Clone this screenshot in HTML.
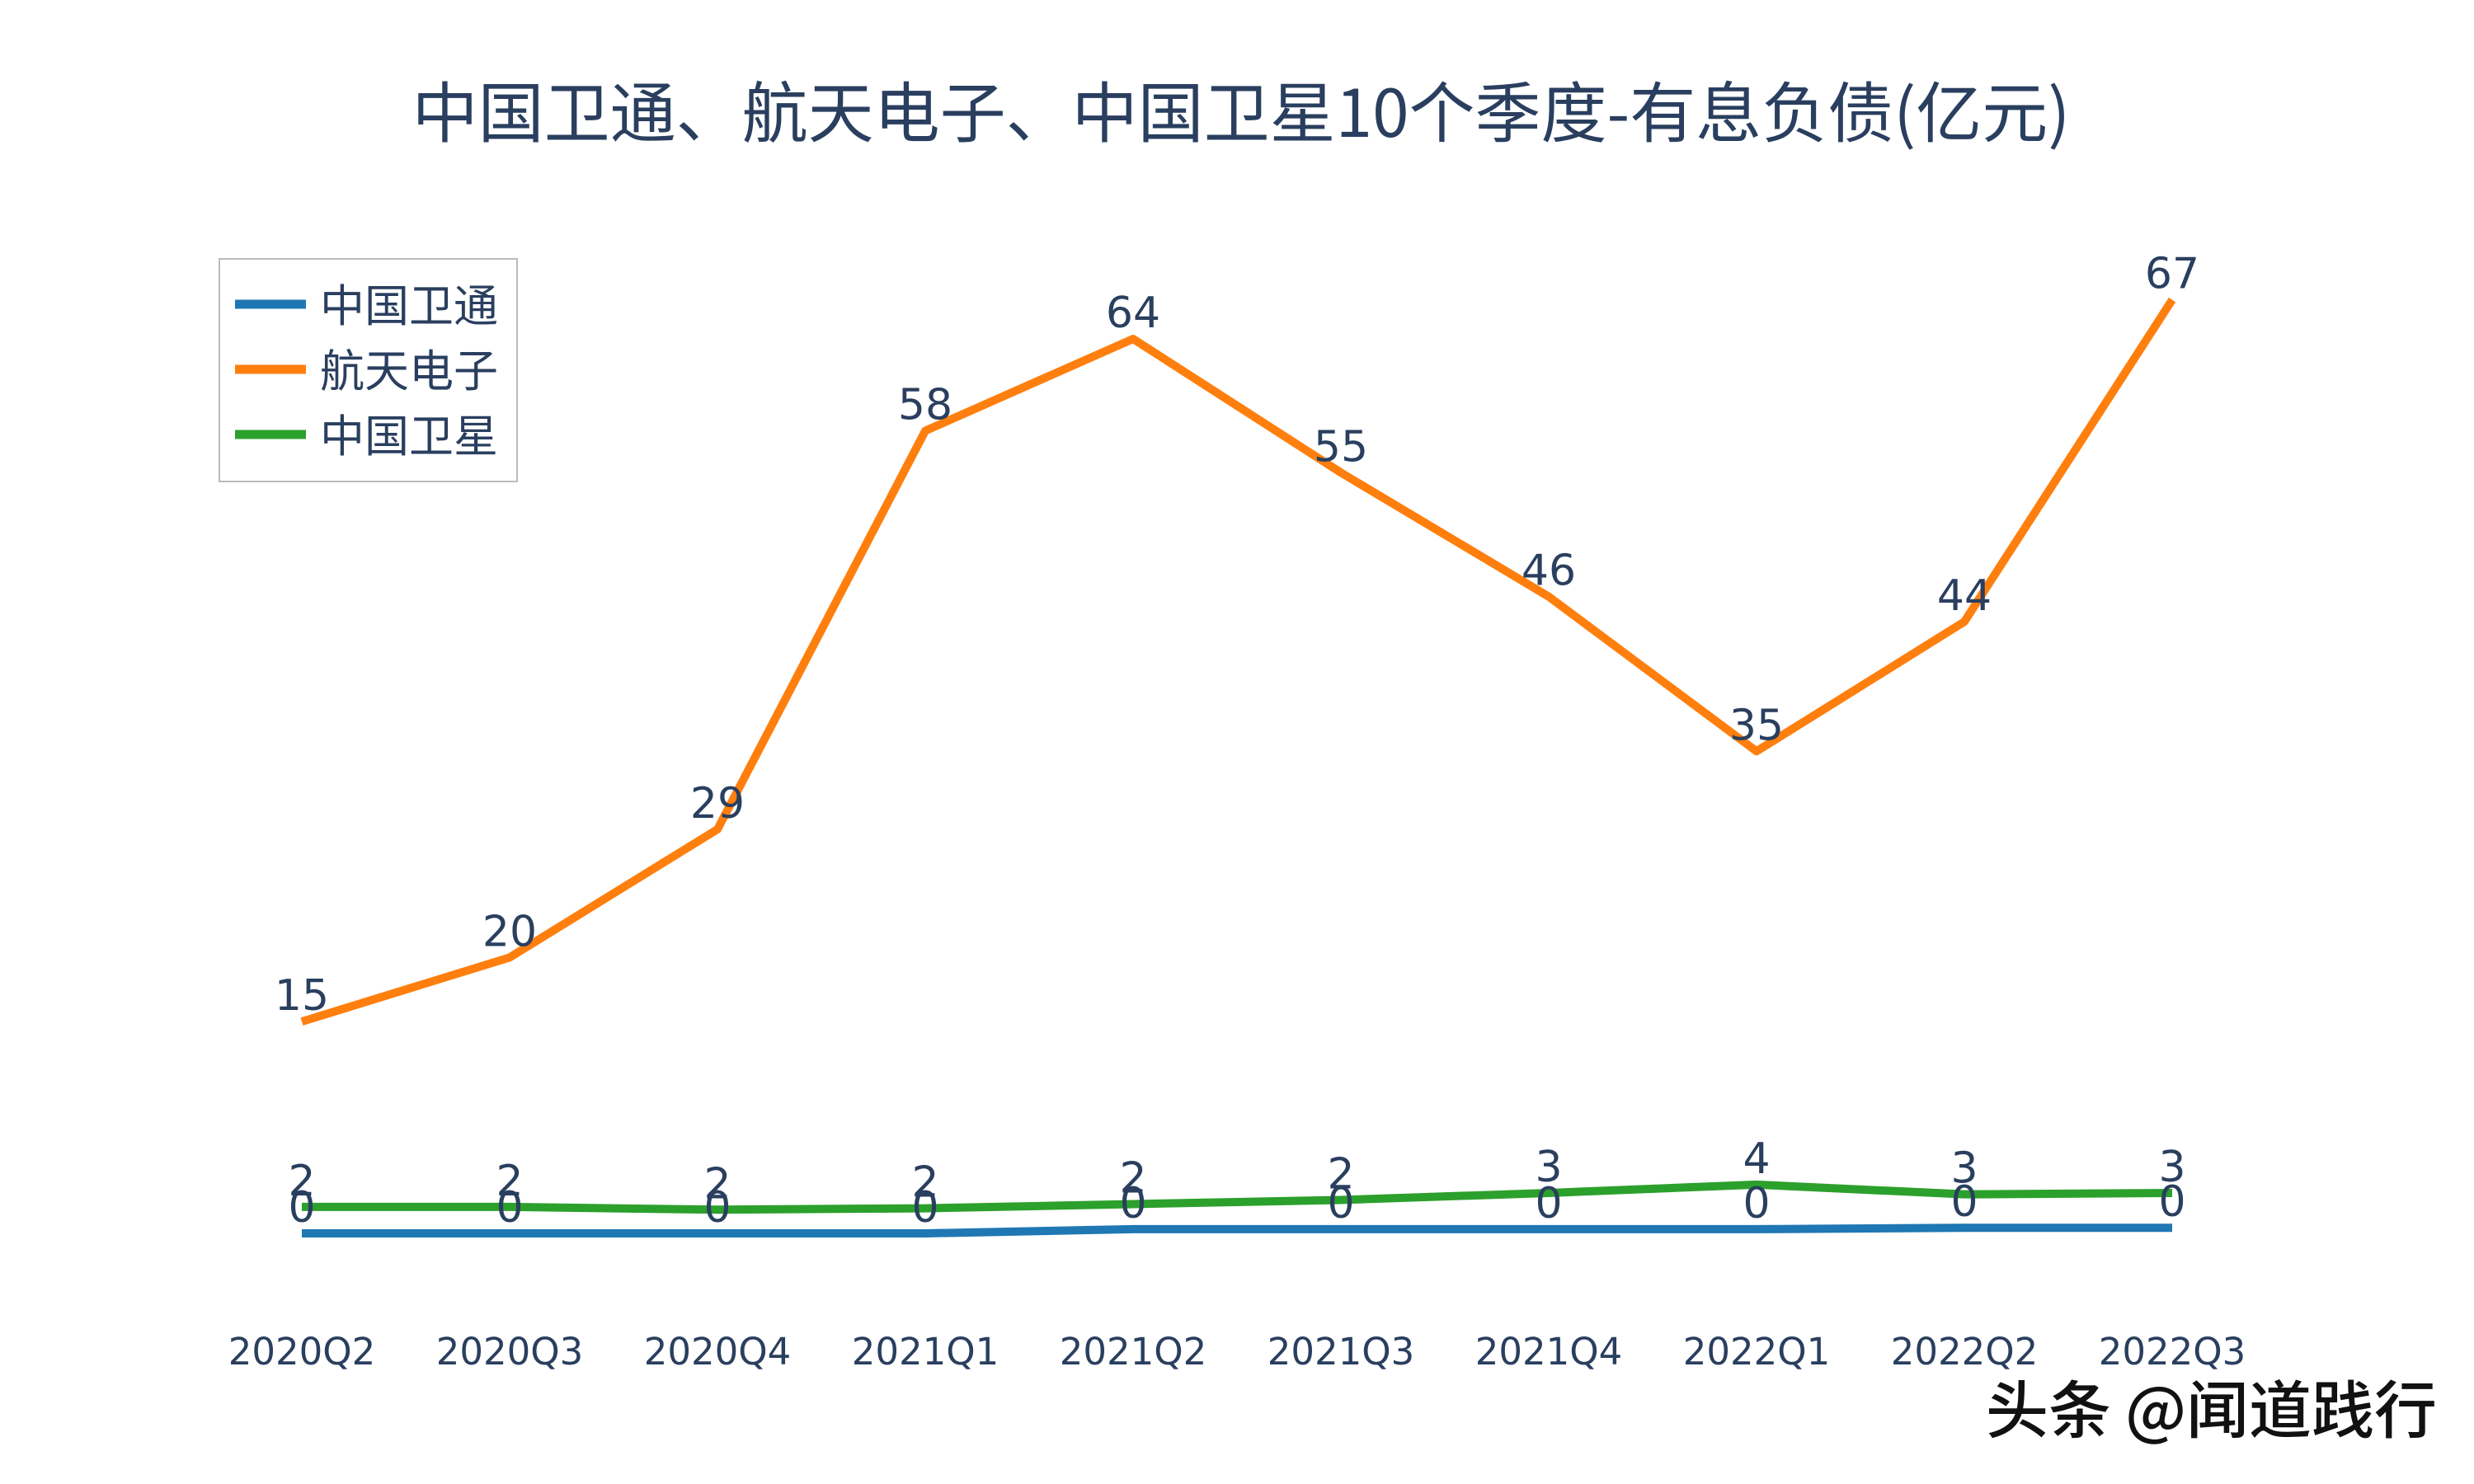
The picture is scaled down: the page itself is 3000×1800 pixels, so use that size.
<!DOCTYPE html>
<html><head><meta charset="utf-8"><style>
html,body{margin:0;padding:0;background:#fff;}
svg{display:block;}
text{font-family:"DejaVu Sans","Liberation Sans","Noto Sans CJK SC",sans-serif;fill:#2a3f5f;}
.cjk{font-family:"Noto Sans CJK SC","DejaVu Sans",sans-serif;}
</style></head><body>
<svg id="chart" width="3000" height="1800" viewBox="0 0 3000 1800" xmlns="http://www.w3.org/2000/svg">
<text class="cjk" x="1505" y="166" font-size="80" text-anchor="middle">中国卫通、航天电子、中国卫星10个季度-有息负债(亿元)</text>
<g id="xaxis"></g>
<g id="series"></g>
<g id="labels"></g>
<g>
<rect x="266" y="314" width="361" height="270" fill="#fff" stroke="#bbb" stroke-width="2"/>
<g><line x1="285" y1="369" x2="371" y2="369" stroke="#1f77b4" stroke-width="11"/><text class="cjk" x="388" y="390" font-size="54">中国卫通</text></g>
<g><line x1="285" y1="448" x2="371" y2="448" stroke="#ff7f0e" stroke-width="11"/><text class="cjk" x="388" y="469" font-size="54">航天电子</text></g>
<g><line x1="285" y1="527" x2="371" y2="527" stroke="#2ca02c" stroke-width="11"/><text class="cjk" x="388" y="548" font-size="54">中国卫星</text></g>
</g>
<text class="cjk" x="2408" y="1738" font-size="76" font-weight="500" style="fill:#111">头条 @闻道践行</text>
</svg>
<script>
const categories = ["2020Q2","2020Q3","2020Q4","2021Q1","2021Q2","2021Q3","2021Q4","2022Q1","2022Q2","2022Q3"];
const weitong = [0,0,0,0,0.3,0.3,0.3,0.3,0.4,0.4];
const hangtian = [15.2,19.8,29,57.6,64.2,54.6,45.7,34.6,43.9,67];
const weixing = [1.9,1.9,1.7,1.8,2.1,2.4,2.9,3.5,2.8,2.9];
const seriesNames = ["weitong","hangtian","weixing"];
const seriesColors = ["#1f77b4","#ff7f0e","#2ca02c"];
const NS = "http://www.w3.org/2000/svg";
function xPos(i){ return 366 + i * (2634 - 366) / (categories.length - 1); }
function yPos(v){ return 1496 - v * 16.9; }
const xg = document.getElementById('xaxis');
categories.forEach((c,i)=>{
  const t = document.createElementNS(NS,'text');
  t.setAttribute('x', xPos(i)); t.setAttribute('y', 1655);
  t.setAttribute('font-size','45'); t.setAttribute('text-anchor','middle');
  t.textContent = c;
  
  
  xg.appendChild(t);
});
const sg = document.getElementById('series');
const lg = document.getElementById('labels');
[weitong, hangtian, weixing].forEach((vals, s)=>{
  const p = document.createElementNS(NS,'polyline');
  p.setAttribute('points', vals.map((v,i)=>xPos(i)+','+yPos(v)).join(' '));
  p.setAttribute('fill','none'); p.setAttribute('stroke', seriesColors[s]);
  p.setAttribute('stroke-width','10'); p.setAttribute('stroke-linejoin','round');
  
  
  sg.appendChild(p);
});
[weitong, hangtian, weixing].forEach((vals, s)=>{
  vals.forEach((v,i)=>{
    const t = document.createElementNS(NS,'text');
    t.setAttribute('x', xPos(i)); t.setAttribute('y', yPos(v) - 14);
    t.setAttribute('font-size','52'); t.setAttribute('text-anchor','middle');
    t.textContent = v.toFixed(0);
    
    
    lg.appendChild(t);
  });
});
</script>
</body></html>
